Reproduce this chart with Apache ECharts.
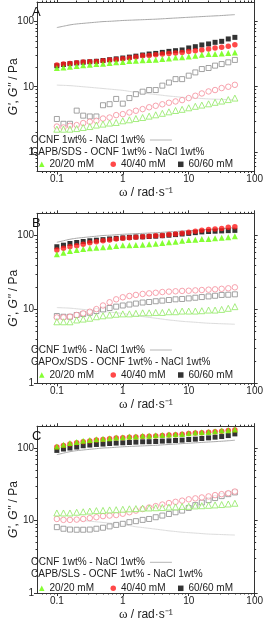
<!DOCTYPE html>
<html>
<head>
<meta charset="utf-8">
<script src="https://cdn.jsdelivr.net/npm/echarts@6/dist/echarts.min.js"></script>
<style>html,body{margin:0;padding:0;background:#fff;}#c{width:266px;height:622px;}</style>
</head>
<body>
<div id="c"></div>
<script>
// angular frequency (rad/s), 10 points per decade
const omega = [0.1, 0.126, 0.158, 0.2, 0.251, 0.316, 0.398, 0.501, 0.631, 0.794, 1, 1.26, 1.58, 2, 2.51, 3.16, 3.98, 5.01, 6.31, 7.94, 10, 12.6, 15.8, 20, 25.1, 31.6, 39.8, 50.1];

// reference OCNF 1wt% - NaCl 1wt% (G' and G'')
const ocnfG1 = [81, 85, 89, 92, 94, 96, 98, 100, 101, 102.5, 104, 105, 106, 107, 108, 109, 110.5, 112, 113.5, 115, 116.5, 118, 119.5, 121, 122.5, 124, 126, 128];
const ocnfG2 = [10.6, 10.5, 10.4, 10.2, 10.0, 9.8, 9.6, 9.4, 9.2, 9.0, 8.8, 8.5, 8.2, 8.0, 7.8, 7.6, 7.4, 7.2, 7.05, 6.9, 6.8, 6.7, 6.6, 6.5, 6.45, 6.4, 6.35, 6.3];

// Panel A: CAPB/SDS
const aG1_20 = [19.4, 19.8, 20.3, 20.8, 21.3, 21.8, 22.3, 22.5, 23.2, 23.7, 24.0, 24.8, 25.1, 25.6, 25.8, 26.0, 26.7, 27.2, 28.2, 28.3, 29.2, 30.0, 31.0, 31.8, 31.9, 32.5, 33.0, 33.7];
const aG1_40 = [21.6, 22.3, 22.8, 23.4, 24.0, 24.3, 24.5, 25.1, 25.8, 26.3, 27.0, 27.7, 28.7, 30.0, 30.3, 31.0, 31.8, 32.5, 32.9, 33.7, 34.9, 35.8, 36.7, 38.0, 39.4, 40.3, 41.7, 44.3];
const aG1_60 = [21.0, 22.0, 22.6, 23.2, 23.8, 24.2, 24.6, 25.3, 26.0, 26.8, 27.6, 28.5, 29.5, 30.7, 31.8, 32.5, 33.7, 34.9, 35.8, 36.7, 39.4, 41.2, 43.8, 45.4, 48.1, 49.8, 54.2, 57.3];
const aG2_20 = [2.23, 2.23, 2.23, 2.28, 2.37, 2.45, 2.58, 2.67, 2.77, 2.83, 3.0, 3.11, 3.25, 3.37, 3.54, 3.71, 3.91, 4.12, 4.32, 4.5, 4.75, 5.01, 5.23, 5.47, 5.77, 6.03, 6.35, 6.7];
const aG2_40 = [2.45, 2.37, 2.51, 2.58, 2.77, 2.90, 3.0, 3.25, 3.37, 3.67, 3.80, 4.03, 4.28, 4.54, 4.84, 5.1, 5.38, 5.68, 5.95, 6.24, 6.7, 7.27, 7.89, 8.47, 8.9, 9.55, 10.0, 10.7];
const aG2_60 = [3.2, 2.7, 2.7, 4.3, 3.6, 3.5, 3.5, 5.2, 5.4, 6.5, 5.5, 6.7, 7.7, 8.4, 8.9, 8.9, 10.4, 11.6, 13.1, 13.1, 14.8, 16.6, 18.7, 19.4, 21.1, 22.3, 23.7, 25.8];

// Panel B: CAPOx/SDS
const bG1_20 = [55.7, 58.5, 61.7, 63.7, 65.7, 67.1, 68.4, 69.2, 70.5, 72.0, 73.7, 74.0, 74.5, 75.0, 76.0, 77.5, 79.2, 80.9, 82.5, 85.1, 86.9, 87.8, 89.7, 90.0, 91.7, 93.4, 94.6, 97.5];
const bG1_40 = [63.7, 67.2, 70.5, 72.8, 76.1, 79.9, 82.4, 85.1, 86.9, 89.7, 92.0, 93.5, 95.0, 96.0, 97.5, 99.0, 100, 103, 105, 107, 111, 114, 118, 121, 122.5, 125, 129, 132];
const bG1_60 = [70.5, 74, 78, 80.5, 83, 85, 86.5, 88, 90, 91.5, 93, 94.5, 95.5, 96, 97, 98, 99.5, 101, 103, 105, 107, 109.5, 112, 113.5, 114.5, 115.5, 116.5, 117.5];
const bG2_20 = [6.8, 6.8, 6.8, 7.2, 7.4, 7.6, 7.96, 8.2, 8.4, 8.6, 8.7, 8.7, 8.85, 9.0, 9.0, 9.1, 9.1, 9.3, 9.3, 9.5, 9.5, 9.5, 9.6, 9.8, 9.8, 10.0, 10.35, 10.9];
const bG2_40 = [7.8, 7.8, 7.96, 8.4, 8.85, 9.3, 10.1, 11.3, 12.5, 13.7, 14.6, 15.2, 15.7, 16.2, 16.5, 16.8, 17.2, 17.4, 17.6, 17.8, 17.9, 18.1, 18.3, 18.5, 18.7, 19.0, 19.3, 19.9];
const bG2_60 = [8.15, 7.96, 7.96, 8.4, 8.66, 9.0, 9.5, 10.0, 10.45, 10.9, 11.3, 11.65, 12.0, 12.4, 12.6, 12.9, 13.15, 13.4, 13.7, 13.85, 14.1, 14.4, 14.7, 15.0, 15.3, 15.7, 15.8, 16.0];

// Panel C: CAPB/SLS
const cG1_20 = [105.1, 110.9, 117.0, 120.7, 125.7, 128.6, 132.6, 133.9, 136.9, 139.6, 141.3, 144.0, 144.5, 147.3, 147.5, 150.4, 151.8, 153.2, 155.2, 156.7, 160.0, 163.2, 165.2, 166.8, 170.5, 173.8, 175.9, 179.4];
const cG1_40 = [103, 108, 114, 118, 122, 125, 129, 131, 134, 137, 139, 141, 142, 144, 145, 147, 149, 151, 153, 155, 158, 161, 163, 165, 168, 171, 174, 177];
const cG1_60 = [92.7, 96.9, 100, 103.2, 107.5, 109.9, 112.0, 113.4, 115.5, 117.0, 118.1, 119.2, 120.7, 121.9, 122.3, 123.0, 124.6, 125.8, 127.0, 128.5, 131.0, 132.6, 135.2, 138.1, 141.2, 144.0, 148.5, 156.7];
const cG2_20 = [12.7, 12.7, 12.7, 13.0, 13.2, 13.5, 13.7, 13.8, 14.0, 14.1, 14.3, 14.5, 14.6, 14.8, 14.9, 15.0, 15.1, 15.3, 15.4, 15.6, 15.7, 15.9, 16.0, 16.2, 16.4, 16.6, 16.9, 17.3];
const cG2_40 = [10.5, 10.2, 10.2, 10.3, 10.5, 10.8, 11.1, 11.5, 11.7, 11.9, 12.4, 13.0, 13.7, 14.4, 15.1, 15.8, 16.6, 17.4, 18.1, 18.8, 19.6, 20.2, 20.8, 21.5, 22.4, 23.1, 23.8, 25.1];
const cG2_60 = [8.1, 7.7, 7.5, 7.46, 7.46, 7.5, 7.7, 7.95, 8.3, 8.7, 9.0, 9.5, 9.8, 10.2, 10.5, 11.1, 11.7, 12.3, 13.0, 13.7, 14.9, 16.3, 17.7, 19.1, 20.4, 21.7, 23.1, 24.4];

// tick values
const xMajor = [0.1, 1, 10, 100];
const xMinor = [0.06, 0.07, 0.08, 0.09, 0.2, 0.3, 0.4, 0.5, 0.6, 0.7, 0.8, 0.9, 2, 3, 4, 5, 6, 7, 8, 9, 20, 30, 40, 50, 60, 70, 80, 90];
const yMajor = [1, 10, 100];
const yMinorA = [0.6, 0.7, 0.8, 0.9, 2, 3, 4, 5, 6, 7, 8, 9, 20, 30, 40, 50, 60, 70, 80, 90];
const yMinorBC = [2, 3, 4, 5, 6, 7, 8, 9, 20, 30, 40, 50, 60, 70, 80, 90];

const labelsLine2 = ['CAPB/SDS - OCNF 1wt% - NaCl 1wt%', 'CAPOx/SDS - OCNF 1wt% - NaCl 1wt%', 'CAPB/SLS - OCNF 1wt% - NaCl 1wt%'];
const panelLetters = ['A', 'B', 'C'];
const concNames = ['20/20 mM', '40/40 mM', '60/60 mM'];
const ocnfName = 'OCNF 1wt% - NaCl 1wt%';

const FONT = 'Liberation Sans, Arial, sans-serif';
const AX = '#333';
const COL = {g: '#66ff00', r: '#ff1a1a', k: '#000000'};
const OPEN = {g: '#8ee860', r: '#f58c9a', k: '#8c8c8c'};

const panels = [
  {top: 2, height: 169.5, yMin: 0.5, yMax: 200, yMinor: yMinorA, d: [aG1_20, aG1_40, aG1_60, aG2_20, aG2_40, aG2_60], leg: [140, 152.3, 164.3], letterTop: 6},
  {top: 213.3, height: 170, yMin: 1, yMax: 200, yMinor: yMinorBC, d: [bG1_20, bG1_40, bG1_60, bG2_20, bG2_40, bG2_60], leg: [350, 362.3, 375], letterTop: 217},
  {top: 426.2, height: 168.8, yMin: 1, yMax: 200, yMinor: yMinorBC, d: [cG1_20, cG1_40, cG1_60, cG2_20, cG2_40, cG2_60], leg: [562.3, 574.3, 588.3], letterTop: 430}
];

const pts = arr => omega.map((w, i) => [w, arr[i]]);
const fmt = v => String(+(+v).toPrecision(3));
const DY = 1; // text placement tweak

const grid = [], xAxis = [], yAxis = [], series = [], legend = [], title = [];

panels.forEach((p, g) => {
  grid.push({left: 30, top: p.top, width: 228, height: p.height});
  const xb = xAxis.length;
  const xBase = {gridIndex: g, type: 'log', logBase: 10, min: 0.05, max: 100, splitLine: {show: false}};
  xAxis.push(Object.assign({}, xBase, {
    position: 'bottom',
    axisLine: {show: true, onZero: false, lineStyle: {color: AX, width: 1}},
    axisTick: {show: true, customValues: xMajor, length: 3, lineStyle: {color: AX}},
    axisLabel: {show: true, customValues: xMajor, formatter: fmt, fontSize: 10, color: '#222', fontFamily: FONT, margin: 3, showMinLabel: true, showMaxLabel: true, hideOverlap: false},
    name: '{w|ω}{n| / rad·s⁻¹}', nameLocation: 'middle', nameGap: 15,
    nameTextStyle: {rich: {w: {fontFamily: 'Liberation Serif, serif', fontSize: 13, color: '#222'}, n: {fontFamily: FONT, fontSize: 12, color: '#222'}}}
  }));
  xAxis.push(Object.assign({}, xBase, {position: 'bottom', axisLine: {show: false, onZero: false}, axisTick: {show: true, customValues: xMinor, length: 1.5, lineStyle: {color: AX}}, axisLabel: {show: false}}));
  xAxis.push(Object.assign({}, xBase, {position: 'top', axisLine: {show: true, onZero: false, lineStyle: {color: AX, width: 1}}, axisTick: {show: true, customValues: xMajor, length: 3, lineStyle: {color: AX}}, axisLabel: {show: false}}));
  xAxis.push(Object.assign({}, xBase, {position: 'top', axisLine: {show: false, onZero: false}, axisTick: {show: true, customValues: xMinor, length: 1.5, lineStyle: {color: AX}}, axisLabel: {show: false}}));

  const yb = yAxis.length;
  const yBase = {gridIndex: g, type: 'log', logBase: 10, min: p.yMin, max: p.yMax, splitLine: {show: false}};
  yAxis.push(Object.assign({}, yBase, {
    position: 'left',
    axisLine: {show: true, onZero: false, lineStyle: {color: AX, width: 1}},
    axisTick: {show: true, customValues: yMajor, length: 3, lineStyle: {color: AX}},
    axisLabel: {show: true, customValues: yMajor, formatter: fmt, fontSize: 10, color: '#222', fontFamily: FONT, margin: 3, showMinLabel: true, showMaxLabel: true, hideOverlap: false},
    name: "{i|G'}{n|, }{i|G''}{n| / Pa}", nameLocation: 'middle', nameGap: 17, nameRotate: 90, nameMoveOverlap: false,
    nameTextStyle: {rich: {i: {fontStyle: 'italic', fontFamily: FONT, fontSize: 12, color: '#222'}, n: {fontFamily: FONT, fontSize: 12, color: '#222'}}}
  }));
  yAxis.push(Object.assign({}, yBase, {position: 'left', axisLine: {show: false, onZero: false}, axisTick: {show: true, customValues: p.yMinor, length: 1.5, lineStyle: {color: AX}}, axisLabel: {show: false}}));
  yAxis.push(Object.assign({}, yBase, {position: 'right', axisLine: {show: true, onZero: false, lineStyle: {color: AX, width: 1}}, axisTick: {show: true, customValues: yMajor, length: 3, lineStyle: {color: AX}}, axisLabel: {show: false}}));
  yAxis.push(Object.assign({}, yBase, {position: 'right', axisLine: {show: false, onZero: false}, axisTick: {show: true, customValues: p.yMinor, length: 1.5, lineStyle: {color: AX}}, axisLabel: {show: false}}));

  const common = {xAxisIndex: xb, yAxisIndex: yb, animation: false, silent: true};
  // OCNF reference lines
  series.push(Object.assign({}, common, {type: 'line', name: ocnfName, data: pts(ocnfG1), symbol: 'none', smooth: true, itemStyle: {color: '#a8a8a8'}, lineStyle: {color: '#a8a8a8', width: 1}, z: 1}));
  series.push(Object.assign({}, common, {type: 'line', name: 'OCNF G″', data: pts(ocnfG2), symbol: 'none', smooth: true, itemStyle: {color: '#dcdcdc'}, lineStyle: {color: '#dcdcdc', width: 1}, z: 1}));
  // open symbols (G'')
  series.push(Object.assign({}, common, {type: 'scatter', name: '60/60 mM G″', data: pts(p.d[5]), symbol: 'rect', symbolSize: 5, itemStyle: {color: '#fff', borderColor: OPEN.k, borderWidth: 1}, z: 2}));
  series.push(Object.assign({}, common, {type: 'scatter', name: '40/40 mM G″', data: pts(p.d[4]), symbol: 'circle', symbolSize: 5.5, itemStyle: {color: '#fff', borderColor: OPEN.r, borderWidth: 1}, z: 2}));
  series.push(Object.assign({}, common, {type: 'scatter', name: '20/20 mM G″', data: pts(p.d[3]), symbol: 'triangle', symbolSize: 6, itemStyle: {color: '#fff', borderColor: OPEN.g, borderWidth: 1}, z: 2}));
  // filled symbols (G')
  series.push(Object.assign({}, common, {type: 'scatter', name: concNames[2], data: pts(p.d[2]), symbol: 'rect', symbolSize: 5, itemStyle: {color: COL.k}, z: 3}));
  series.push(Object.assign({}, common, {type: 'scatter', name: concNames[1], data: pts(p.d[1]), symbol: 'circle', symbolSize: 5.5, itemStyle: {color: COL.r}, z: 3}));
  series.push(Object.assign({}, common, {type: 'scatter', name: concNames[0], data: pts(p.d[0]), symbol: 'triangle', symbolSize: 6, itemStyle: {color: COL.g}, z: 3}));

  const ts = {fontSize: 10, color: '#222', fontFamily: FONT};
  legend.push({left: 31, top: p.leg[0] - 6 + DY, padding: 0, align: 'right', itemWidth: 22, itemHeight: 1, selectedMode: false, textStyle: ts, data: [{name: ocnfName, icon: 'rect', itemStyle: {color: '#b4b4b4'}}]});
  title.push({text: labelsLine2[g], left: 31, top: p.leg[1] - 6 + DY, padding: 0, textStyle: Object.assign({fontWeight: 'normal'}, ts)});
  const icons = ['triangle', 'circle', 'rect'];
  const lefts = [39, 110.5, 178];
  concNames.forEach((n, j) => {
    legend.push({left: lefts[j], top: p.leg[2] - 6 + DY, padding: 0, itemWidth: 5.5, itemHeight: 5.5, itemGap: 0, selectedMode: false, textStyle: ts, data: [{name: n, icon: icons[j]}]});
  });
  title.push({text: panelLetters[g], left: 32, top: p.letterTop, padding: 0, textStyle: {fontSize: 13, fontWeight: 'normal', color: '#111', fontFamily: FONT}});
});

const chart = echarts.init(document.getElementById('c'), null, {renderer: 'canvas'});
chart.setOption({animation: false, backgroundColor: '#fff', grid, xAxis, yAxis, series, legend, title});
</script>
</body>
</html>
